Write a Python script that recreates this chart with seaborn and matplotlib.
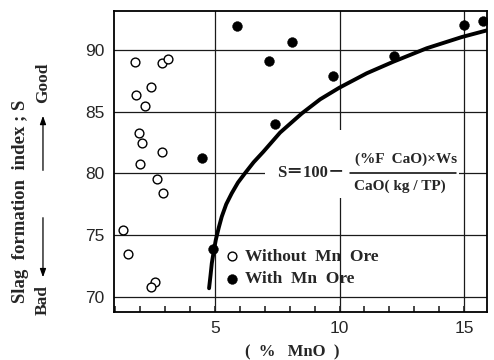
import numpy as np
import pandas as pd
import matplotlib
matplotlib.use("Agg")
import matplotlib.pyplot as plt
import seaborn as sns
from matplotlib.ticker import MultipleLocator
from matplotlib.patches import Rectangle
from matplotlib.lines import Line2D

# ---- data ----
without_x = [1.80, 2.88, 3.10, 2.42, 1.83, 2.18, 1.93, 2.07, 2.86, 1.98, 2.68, 2.90, 1.32, 1.52, 2.60, 2.42]
without_y = [89.0, 88.92, 89.25, 87.0, 86.33, 85.46, 83.27, 82.48, 81.73, 80.78, 79.52, 78.38, 75.41, 73.44, 71.17, 70.81]

with_x = [4.47, 5.87, 8.09, 7.18, 9.75, 12.19, 15.0, 15.75, 7.42, 4.91]
with_y = [81.27, 91.97, 90.67, 89.13, 87.89, 89.51, 92.03, 92.38, 84.0, 73.87]

curve_x = [4.76, 4.82, 4.87, 4.95, 5.03, 5.15, 5.27, 5.45, 5.67, 5.92, 6.20, 6.55, 6.94, 7.61, 8.48, 9.22, 9.99, 11.09, 12.16, 13.5, 14.91, 15.97]
curve_y = [70.68, 71.75, 72.71, 73.7, 74.6, 75.6, 76.49, 77.5, 78.38, 79.25, 80.0, 80.9, 81.75, 83.3, 84.85, 86.0, 86.94, 88.11, 89.05, 90.14, 91.05, 91.62]

x_ticks = [5, 10, 15]
y_ticks = [70, 75, 80, 85, 90]
legend_labels = ["Without  Mn  Ore", "With  Mn  Ore"]
x_label = "(  %   MnO  )"
y_label = "Slag  formation  index ; S"

# ---- style ----
sns.set_style("white")
plt.rcParams["font.family"] = ["Liberation Serif", "DejaVu Serif"]
plt.rcParams["axes.linewidth"] = 1.3

fig = plt.figure(figsize=(4.94, 3.60), dpi=100)
ax = fig.add_axes([0.2314, 0.1342, 0.7544, 0.8352])

df_without = pd.DataFrame({"MnO": without_x, "S": without_y})
df_with = pd.DataFrame({"MnO": with_x, "S": with_y})
df_curve = pd.DataFrame({"MnO": curve_x, "S": curve_y})

sns.lineplot(data=df_curve, x="MnO", y="S", sort=False, estimator=None,
             color="black", linewidth=2.8, ax=ax, zorder=3, legend=False)
sns.scatterplot(data=df_without, x="MnO", y="S", ax=ax, s=40,
                facecolor="white", edgecolor="black", linewidth=1.0,
                zorder=4, label=legend_labels[0])
sns.scatterplot(data=df_with, x="MnO", y="S", ax=ax, s=50,
                color="black", edgecolor="black", linewidth=0.3,
                zorder=4, label=legend_labels[1])

ax.set_xlim(0.955, 15.92)
ax.set_ylim(68.78, 93.16)
ax.set_xticks(x_ticks)
ax.set_yticks(y_ticks)
ax.xaxis.set_minor_locator(MultipleLocator(1))
ax.grid(True, which="major", color="#1a1a1a", linewidth=0.9)
ax.set_axisbelow(True)
for sp in ax.spines.values():
    sp.set_color("black")
    sp.set_visible(True)

ax.tick_params(axis="x", which="both", direction="in", length=4, width=1.2,
               bottom=True, top=False, pad=7, labelsize=12.5)
ax.tick_params(axis="y", which="both", length=0, left=False, pad=7, labelsize=12.5)
for lab in ax.get_xticklabels() + ax.get_yticklabels():
    lab.set_family(["Liberation Sans Narrow", "Liberation Sans", "DejaVu Sans"])

ax.set_xlabel(x_label, fontsize=12, fontweight="bold")
ax.xaxis.set_label_coords(0.477, -0.11)
ax.set_ylabel("")

# Y-axis label with Good / Bad arrows
ax.text(-0.253, 0.368, y_label, transform=ax.transAxes, rotation=90,
        ha="center", va="center", fontsize=13.5, fontweight="bold")
fig.text(0.087, 0.769, "Good", rotation=90, ha="center", va="center",
         fontsize=12.5, fontweight="bold")
fig.text(0.087, 0.1667, "Bad", rotation=90, ha="center", va="center",
         fontsize=12.5, fontweight="bold")
fig.add_artist(matplotlib.patches.FancyArrowPatch(
    (0.087, 0.519), (0.087, 0.686), transform=fig.transFigure,
    arrowstyle="-|>,head_length=5,head_width=1.8", color="black", lw=0.9))
fig.add_artist(matplotlib.patches.FancyArrowPatch(
    (0.087, 0.403), (0.087, 0.222), transform=fig.transFigure,
    arrowstyle="-|>,head_length=5,head_width=1.8", color="black", lw=0.9))

# formula box (white background covering grid)
ax.add_patch(Rectangle((0.405, 0.378), 0.52, 0.226, transform=ax.transAxes,
                       facecolor="white", edgecolor="none", zorder=2))
ax.text(0.619, 0.4603, "S＝100－", transform=ax.transAxes, ha="right", va="center",
        fontsize=12, fontweight="bold", zorder=5,
        family=["Liberation Serif", "Noto Sans CJK JP", "DejaVu Sans"])
ax.text(0.7827, 0.5079, "(%F  CaO)×Ws", transform=ax.transAxes, ha="center", va="center",
        fontsize=11, fontweight="bold", zorder=5)
ax.text(0.7666, 0.4157, "CaO( kg / TP)", transform=ax.transAxes, ha="center", va="center",
        fontsize=11, fontweight="bold", zorder=5)
ax.add_line(Line2D([0.6324, 0.9168], [0.4603, 0.4603], transform=ax.transAxes,
                   color="black", linewidth=1.1, zorder=5))

leg = ax.legend(loc="upper left", bbox_to_anchor=(0.268, 0.238), frameon=False,
                prop={"weight": "bold", "size": 12.5}, handletextpad=0.3,
                handlelength=1.0, borderpad=0.0, labelspacing=0.35,
                markerscale=1.0)

fig.savefig("out.png", dpi=100)
